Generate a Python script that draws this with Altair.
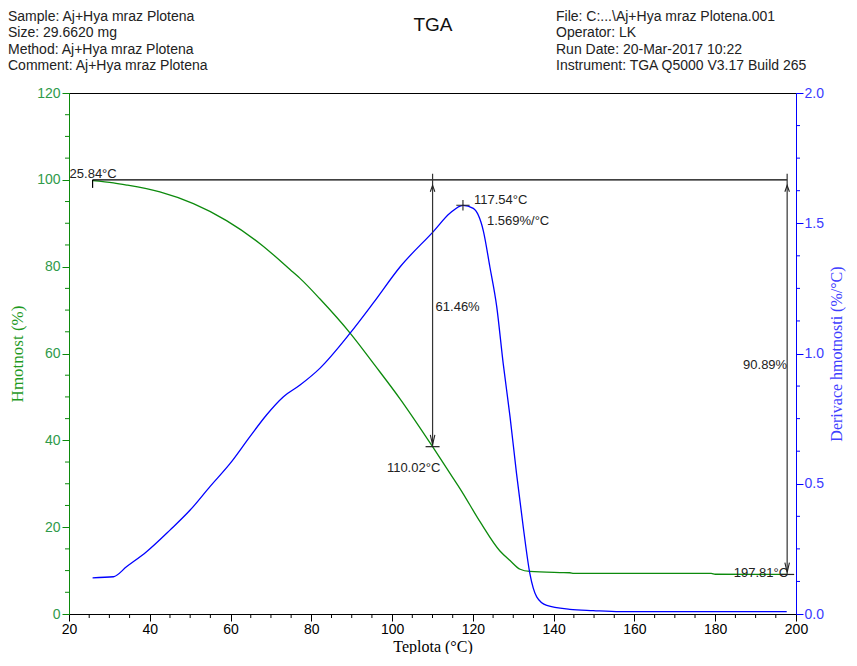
import altair as alt
import pandas as pd

# ---------------- data ----------------
# Weight curve (green): temperature (°C) and weight (%)
w_temp = [25.84, 31.0, 34.3, 42.5, 50.8, 59.0, 67.3, 75.5, 77.2, 82.1, 89.6, 95.8,
          102.0, 110.02, 115.1, 116.8, 121.8, 126.7, 129.2, 131.7, 134.1,
          141.6, 144.0, 145.0, 179.0, 180.0, 197.81]
w_val = [99.8, 99.3, 98.8, 97.2, 94.5, 90.6, 85.3, 78.7, 77.3, 72.6, 64.7, 57.2,
         49.5, 38.54, 31.3, 28.9, 21.2, 14.5, 12.3, 10.3, 9.8,
         9.55, 9.5, 9.37, 9.35, 9.15, 9.11]

# Derivative curve (blue): temperature (°C) and derivative (%/°C)
d_temp = [25.84, 31.0, 34.3, 39.2, 45.0, 50.0, 54.9, 59.9, 64.8, 68.9, 73.1, 77.2,
          82.1, 89.6, 95.3, 102.0, 110.2, 114.3, 117.54, 120.1, 122.6, 124.2, 125.9,
          127.5, 129.2, 130.8, 132.5, 134.1, 135.8, 138.3, 144.0, 149.8, 156.4, 197.7]
d_val = [0.139, 0.143, 0.182, 0.239, 0.322, 0.399, 0.489, 0.578, 0.681, 0.764, 0.834,
         0.879, 0.943, 1.078, 1.193, 1.333, 1.468, 1.538, 1.569, 1.557, 1.47, 1.333,
         1.18, 0.962, 0.757, 0.54, 0.33, 0.156, 0.066, 0.033, 0.018, 0.013, 0.009, 0.009]

# Annotations
onset_temp = 25.84
ref_level = 100.0
step_temps = [110.02, 197.81]
step_loss = [61.46, 90.89]
step_loss_labels = ["61.46%", "90.89%"]
step_temp_labels = ["110.02°C", "197.81°C"]
peak_temp = 117.54
peak_val = 1.569

# Axis ticks (major with labels, minor without)
x_major = list(range(20, 201, 20))
x_minor = [v for v in range(20, 201, 5) if v % 20]
yl_major = list(range(0, 121, 20))
yl_minor = [v for v in range(0, 121, 5) if v % 20]
yr_major = [0.0, 0.5, 1.0, 1.5, 2.0]
yr_minor = [i * 0.125 for i in range(17) if i % 4]

header_left = ["Sample: Aj+Hya mraz Plotena", "Size:  29.6620 mg",
               "Method: Aj+Hya mraz Plotena", "Comment: Aj+Hya mraz Plotena"]
header_right = ["File: C:...\\Aj+Hya mraz Plotena.001", "Operator: LK",
                "Run Date: 20-Mar-2017 10:22", "Instrument: TGA Q5000 V3.17 Build 265"]
main_title = "TGA"

# ---------------- frames ----------------
wdf = pd.DataFrame({"T": w_temp, "W": w_val})
ddf = pd.DataFrame({"T": d_temp, "D": d_val})
step_end = [ref_level - l for l in step_loss]
steps = pd.DataFrame({"T": step_temps, "Wend": step_end,
                      "Wtop": [ref_level] * len(step_temps),
                      "Wmid": [(ref_level + e) / 2 for e in step_end],
                      "loss": step_loss_labels, "tlab": step_temp_labels})
hline = pd.DataFrame({"T": [onset_temp], "T2": [step_temps[-1]], "W": [ref_level],
                      "lab": [f"{onset_temp:.2f}°C"]})
peak = pd.DataFrame({"T": [peak_temp], "D": [peak_val],
                     "tl": [f"{peak_temp:.2f}°C"], "vl": [f"{peak_val:.3f}%/°C"]})
hdr = pd.DataFrame({"l": ["\n".join(header_left)], "r": ["\n".join(header_right)],
                    "t": [main_title]})
xmin_df = pd.DataFrame({"T": x_minor})
ylmin_df = pd.DataFrame({"W": yl_minor})
yrmin_df = pd.DataFrame({"D": yr_minor})

SANS = "Liberation Sans"
SERIF = "Liberation Serif"
GREEN = "#0c8a0c"
BLUE = "#0000ff"
W_PX, H_PX = 727, 521

xscale = alt.Scale(domain=[20, 200], nice=False, zero=False)
ylscale = alt.Scale(domain=[0, 120], nice=False)
yrscale = alt.Scale(domain=[0, 2], nice=False)

x_axis = alt.Axis(values=x_major, tickSize=7, ticks=True,
                  grid=False, domainColor="black", tickColor="black", labelColor="black",
                  labelFont=SANS, labelFontSize=14, labelPadding=1, labelFlush=False,
                  title="Teplota (°C)", titleFont=SERIF,
                  titleFontSize=16, titleFontWeight="normal", titleColor="black",
                  titlePadding=2)
yl_axis = alt.Axis(values=yl_major, tickSize=7, ticks=True, orient="left",
                   grid=False, domainColor=GREEN, tickColor=GREEN, labelColor="#2f9a4a",
                   labelFont=SANS, labelFontSize=14, labelPadding=2,
                   title="Hmotnost (%)", titleFont=SERIF, titleFontSize=17,
                   titleFontWeight="normal", titleColor="#1f9a1f", titlePadding=10)
yr_axis = alt.Axis(values=yr_major, format=".1f", orient="right", tickSize=7, ticks=True,
                   grid=False, domainColor=BLUE, tickColor=BLUE, labelColor="#3a3aff",
                   labelFont=SANS, labelFontSize=14, labelPadding=1,
                   title="Derivace hmotnosti (%/°C)", titleFont=SERIF, titleFontSize=16,
                   titleFontWeight="normal", titleColor="#4040ff", titleAngle=270,
                   titleBaseline="top", titlePadding=5)

# every layer shares the same x encoding (and identical axis), so the shared axis merges
X = alt.X("T:Q", scale=xscale, axis=x_axis)


def yl(field):
    return alt.Y(field, type="quantitative", scale=ylscale, axis=None)


def yr(field):
    return alt.Y(field, type="quantitative", scale=yrscale, axis=None)


green = alt.Chart(wdf).mark_line(color=GREEN, strokeWidth=1.3, interpolate="monotone").encode(
    x=X, y=alt.Y("W:Q", scale=ylscale, axis=yl_axis))

blue = alt.Chart(ddf).mark_line(color=BLUE, strokeWidth=1.3, interpolate="monotone").encode(
    x=X, y=alt.Y("D:Q", scale=yrscale, axis=yr_axis))

# minor ticks
xmin = alt.Chart(xmin_df).mark_rule(color="black", strokeWidth=1).encode(
    x=X, y=alt.value(H_PX), y2=alt.value(H_PX + 4))
ylmin = alt.Chart(ylmin_df).mark_rule(color=GREEN, strokeWidth=1).encode(
    y=yl("W"), x=alt.value(0), x2=alt.value(-4))
yrmin = alt.Chart(yrmin_df).mark_rule(color=BLUE, strokeWidth=1).encode(
    y=yr("D"), x=alt.value(W_PX), x2=alt.value(W_PX + 4))

hrule = alt.Chart(hline).mark_rule(color="black", strokeWidth=1.2).encode(
    x=X, x2="T2:Q", y=yl("W"))

onset_tick = alt.Chart(hline).mark_point(shape="M0,0L0,2.3", size=49, filled=False,
                                         stroke="black", strokeWidth=1.2, opacity=1).encode(
    x=X, y=yl("W"))

onset_lab = alt.Chart(hline).mark_text(font=SANS, fontSize=13, color="#222", align="left",
                                       dx=-23, dy=-6).encode(
    x=X, y=yl("W"), text="lab:N")

varrow = alt.Chart(steps).mark_rule(color="#333", strokeWidth=1.2, y2Offset=-6).encode(
    x=X, y=yl("Wend"), y2="Wtop:Q")

up_head = alt.Chart(steps).mark_point(shape="M-0.65,3.4L0,1.6L0.65,3.4", size=49,
                                      filled=False, stroke="#222", strokeWidth=1.1,
                                      opacity=1).encode(x=X, y=yl("Wtop"))

down_head = alt.Chart(steps).mark_point(shape="M-0.65,-3.4L0,-0.6L0.65,-3.4", size=49,
                                        filled=False, stroke="#222", strokeWidth=1.1,
                                        opacity=1).encode(x=X, y=yl("Wend"))

end_tick = alt.Chart(steps).mark_point(shape="M-2,0L2,0", size=49, filled=False,
                                       stroke="#222", strokeWidth=1.2, opacity=1).encode(
    x=X, y=yl("Wend"))

loss1 = alt.Chart(steps.iloc[[0]]).mark_text(font=SANS, fontSize=13, color="#222",
                                             align="left", dx=3, dy=-6).encode(
    x=X, y=yl("Wmid"), text="loss:N")
loss2 = alt.Chart(steps.iloc[[1]]).mark_text(font=SANS, fontSize=13, color="#222",
                                             align="right", dx=0, dy=-12).encode(
    x=X, y=yl("Wmid"), text="loss:N")
tlab1 = alt.Chart(steps.iloc[[0]]).mark_text(font=SANS, fontSize=13, color="#222",
                                             align="center", dx=-19, dy=21).encode(
    x=X, y=yl("Wend"), text="tlab:N")
tlab2 = alt.Chart(steps.iloc[[1]]).mark_text(font=SANS, fontSize=13, color="#222",
                                             align="right", dx=1, dy=-1).encode(
    x=X, y=yl("Wend"), text="tlab:N")

cross = alt.Chart(peak).mark_point(shape="M-1.9,0L1.9,0M0,-1.5L0,1.5", size=49,
                                   filled=False, stroke="#222", strokeWidth=1.1,
                                   opacity=1).encode(x=X, y=yr("D"))
peak_t = alt.Chart(peak).mark_text(font=SANS, fontSize=13, color="#222", align="left",
                                   dx=11, dy=-5).encode(x=X, y=yr("D"), text="tl:N")
peak_v = alt.Chart(peak).mark_text(font=SANS, fontSize=13, color="#222", align="left",
                                   dx=24, dy=16).encode(x=X, y=yr("D"), text="vl:N")

hdr_l = alt.Chart(hdr).mark_text(font=SANS, fontSize=14, color="#222", align="left",
                                 baseline="middle", lineBreak="\n", lineHeight=16.3).encode(
    x=alt.value(-61), y=alt.value(-76), text="l:N")
hdr_r = alt.Chart(hdr).mark_text(font=SANS, fontSize=14, color="#222", align="left",
                                 baseline="middle", lineBreak="\n", lineHeight=16.3).encode(
    x=alt.value(487), y=alt.value(-76), text="r:N")
hdr_t = alt.Chart(hdr).mark_text(font=SANS, fontSize=19, color="#111", align="center",
                                 baseline="middle").encode(
    x=alt.value(364), y=alt.value(-68), text="t:N")

chart = alt.layer(
    green, blue, xmin, ylmin, yrmin, hrule, onset_tick, onset_lab, varrow, up_head,
    down_head, end_tick, loss1, loss2, tlab1, tlab2, cross, peak_t, peak_v,
    hdr_l, hdr_r, hdr_t,
).resolve_scale(y="independent").properties(
    width=W_PX, height=H_PX,
    background="white",
    autosize=alt.AutoSizeParams(type="none"),
    padding={"left": 61, "top": 85, "right": 53, "bottom": 40},
).configure_view(stroke="black", strokeWidth=1)

chart.save("out.html", embed_options={"renderer": "svg", "actions": False})
